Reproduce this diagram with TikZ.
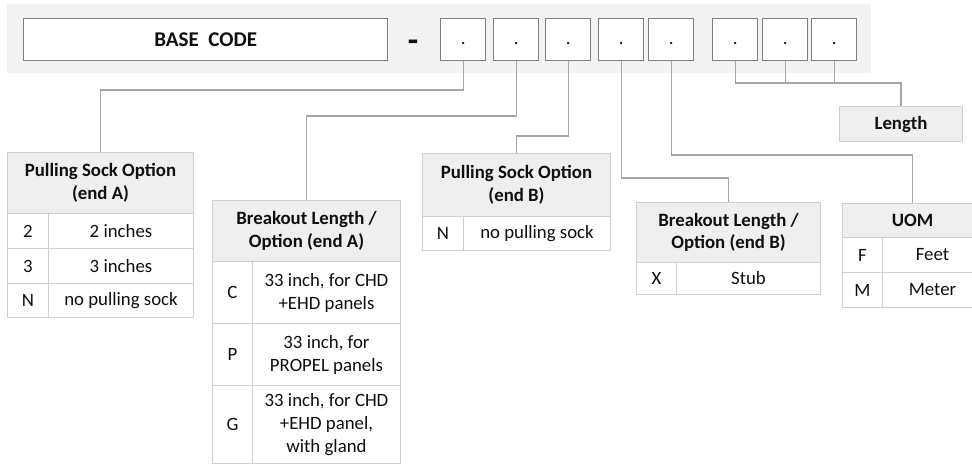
\documentclass[tikz,border=0pt]{standalone}
\usepackage{fontspec}
\setmainfont{Carlito}
\definecolor{bandgray}{RGB}{242,242,242}
\definecolor{hdrgray}{RGB}{239,239,239}
\definecolor{tline}{RGB}{208,208,208}
\definecolor{boxline}{RGB}{128,128,128}
\definecolor{connline}{RGB}{165,165,165}
\definecolor{txt}{RGB}{15,15,15}
\newcommand\hdrfont{\fontsize{18.8}{22.5}\selectfont\bfseries}
\newcommand\bodyfont{\fontsize{18.8}{23}\selectfont}
\newcommand\basefont{\fontsize{21}{25}\selectfont\bfseries}
\newcommand\dashfont{\fontsize{34}{36}\selectfont\bfseries}
% row macro: name, x0, xc, x1, y0, y1, key, value
\newcommand\trow[8]{%
  \node[cell, minimum width={#3-#2}, minimum height={#6-#5}] (#1k) at (#2,#5) {#7};
  \node[cell, minimum width={#4-#3}, minimum height={#6-#5}] (#1v) at (#3,#5) {#8};
}
\begin{document}
\begin{tikzpicture}[x=1pt,y=-1pt,
  codebox/.style={draw=boxline, fill=white, line width=1.4pt, anchor=north west,
    minimum height=42, inner sep=0pt, text=txt},
  dotbox/.style={codebox, minimum width=45, font=\bodyfont, text height=13, text depth=4},
  hdr/.style={draw=tline, fill=hdrgray, line width=1pt, anchor=north west,
    align=center, font=\hdrfont, inner sep=0pt, text=txt},
  cell/.style={draw=tline, fill=white, line width=1pt, anchor=north west,
    align=center, font=\bodyfont, inner sep=0pt, text=txt},
  conn/.style={draw=connline, line width=1.2pt},
]
\useasboundingbox (0,0) rectangle (972,464);
\clip (0,0) rectangle (972,464);
\fill[white] (0,0) rectangle (972,464);

% code band
\fill[bandgray] (7,4) rectangle (871,73);
\node[codebox, minimum width=364] (base) at (23,18) {\basefont BASE\ \ CODE};
\node[font=\dashfont, text=txt, inner sep=0pt] (dash) at (413,46) {-};
\node[dotbox] (b1) at (440,18) {.};
\node[dotbox] (b2) at (493,18) {.};
\node[dotbox] (b3) at (545,18) {.};
\node[dotbox] (b4) at (598,18) {.};
\node[dotbox] (b5) at (648,18) {.};
\node[dotbox] (b6) at (712,18) {.};
\node[dotbox] (b7) at (762,18) {.};
\node[dotbox] (b8) at (811,18) {.};

% Pulling Sock Option (end A)
\node[hdr, minimum width=186, minimum height=61] (psA) at (7,152) {Pulling Sock Option\\(end A)};
\trow{psAa}{7}{48}{193}{213}{248}{2}{2 inches}
\trow{psAb}{7}{48}{193}{248}{283}{3}{3 inches}
\trow{psAc}{7}{48}{193}{283}{317}{N}{no pulling sock}

% Breakout Length / Option (end A)
\node[hdr, minimum width=188, minimum height=61] (brA) at (212,200) {Breakout Length /\\Option (end A)};
\trow{brAa}{212}{252}{400}{261}{323}{C}{33 inch, for CHD\\+EHD panels}
\trow{brAb}{212}{252}{400}{323}{385}{P}{33 inch, for\\PROPEL panels}
\trow{brAc}{212}{252}{400}{385}{463}{G}{33 inch, for CHD\\+EHD panel,\\with gland}

% Pulling Sock Option (end B)
\node[hdr, minimum width=188, minimum height=63] (psB) at (422,153) {Pulling Sock Option\\(end B)};
\trow{psBa}{422}{463}{610}{216}{250}{N}{no pulling sock}

% Breakout Length / Option (end B)
\node[hdr, minimum width=184, minimum height=60] (brB) at (636,202) {Breakout Length /\\Option (end B)};
\trow{brBa}{636}{676}{820}{262}{294}{X}{Stub}

% UOM
\node[hdr, minimum width=140, minimum height=34] (uom) at (842,203) {UOM};
\trow{uoma}{842}{882}{982}{237}{272}{F}{Feet}
\trow{uomb}{842}{882}{982}{272}{307}{M}{Meter}

% Length
\node[hdr, minimum width=123, minimum height=35] (len) at (839,106) {Length};

% connectors
\draw[conn] (b1.south) -- (b1.south |- 0,90) -| (psA.north);
\draw[conn] (b2.south) -- (b2.south |- 0,116) -| (brA.north);
\draw[conn] (b3.south) -- (b3.south |- 0,136) -| (psB.north);
\draw[conn] (b4.south) -- (b4.south |- 0,178) -| (brB.north);
\draw[conn] (b5.south) -- (b5.south |- 0,155) -| (uom.north);
\draw[conn] (b6.south) -- (b6.south |- 0,83) -| (len.north);
\draw[conn] (b7.south) -- (b7.south |- 0,83);
\draw[conn] (b8.south) -- (b8.south |- 0,83);
\end{tikzpicture}
\end{document}
